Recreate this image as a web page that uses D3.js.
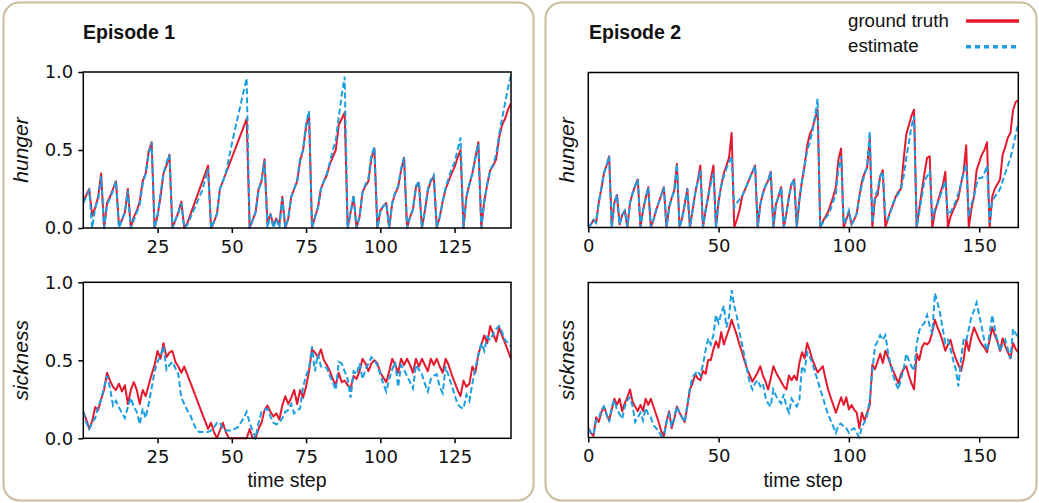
<!DOCTYPE html>
<html><head><meta charset="utf-8">
<script src="https://cdn.jsdelivr.net/npm/d3@7"></script>
<style>
body{margin:0;background:#fff;}
svg{display:block;}
</style></head>
<body>
<svg id="chart" width="1039" height="503"></svg>
<script>
// ---------------- DATA ----------------
const episodes = ["Episode 1", "Episode 2"];
const seriesNames = ["ground truth", "estimate"];
const yTicks = [0, 0.5, 1.0];
const ep1XTicks = [25, 50, 75, 100, 125];
const ep2XTicks = [0, 50, 100, 150];
const ep1Range = [0, 144];
const ep2Range = [0, 165];

// hunger: [time step, value] vertices
const ep1HungerTruth = [[0,.17],[2,.25],[3,.08],[4,.13],[5,.2],[6,.35],[7,0],[8,.16],[9,.2],[10,.25],[11,.3],[12,.02],[13,.05],[14,.1],[15,.25],[16,0],[17,.07],[18,.11],[19,.17],[20,.3],[21,.35],[22,.49],[23,.55],[24,0],[25,.08],[26,.2],[27,.35],[28,.4],[29,.47],[30,0],[31,.05],[32,.1],[33,.17],[34,0],[35,.03],[42,.4],[43,0],[44,.04],[45,.09],[46,.25],[55,.7],[56,0],[57,.05],[58,.1],[59,.25],[60,.3],[61,.44],[62,.03],[63,.09],[64,.02],[65,.06],[66,.02],[67,.2],[68,0],[69,.06],[70,.2],[71,.25],[72,.3],[73,.43],[74,.5],[75,.65],[76,.73],[77,0],[78,.07],[79,.13],[80,.25],[81,.3],[82,.34],[83,.41],[85,.5],[86,.66],[87,.7],[88,.74],[89,0],[90,.1],[91,.2],[92,0],[93,.07],[94,.23],[95,.27],[96,.3],[97,.45],[98,.51],[99,0],[100,.11],[101,.14],[102,.16],[103,0],[104,.16],[105,.22],[106,.26],[107,.37],[108,.45],[109,0],[110,.07],[111,.12],[112,.26],[113,.29],[114,0],[115,.11],[116,.24],[117,.3],[118,.33],[119,0],[120,.07],[121,.17],[122,.25],[123,.3],[124,.35],[125,.39],[126,.45],[127,.5],[128,0],[129,.2],[130,.28],[131,.35],[132,.45],[133,.55],[134,0],[135,.17],[136,.28],[137,.37],[138,.4],[139,.44],[140,.58],[141,.66],[142,.7],[143,.76],[144,.8]];
const ep1HungerEst = [[0,.16],[2,.24],[3,0],[4,.13],[5,.18],[6,.33],[7,0],[8,.15],[9,.19],[10,.24],[11,.3],[12,0],[13,.05],[14,.1],[15,.24],[16,0],[17,.05],[18,.1],[19,.15],[20,.28],[21,.35],[22,.47],[23,.55],[24,0],[25,.08],[26,.22],[27,.35],[28,.42],[29,.47],[30,0],[31,.05],[32,.1],[33,.16],[34,0],[35,.02],[38,.15],[40,.24],[42,.38],[43,0],[44,.04],[45,.09],[46,.25],[48,.35],[50,.54],[52,.71],[55,.96],[56,0],[57,.05],[58,.1],[59,.24],[60,.3],[61,.43],[62,0],[63,.09],[64,0],[65,.06],[66,0],[67,.19],[68,0],[69,.06],[70,.2],[71,.25],[72,.3],[73,.45],[74,.5],[75,.67],[76,.75],[77,0],[78,.07],[79,.13],[80,.25],[81,.3],[82,.35],[83,.42],[84,.5],[85,.56],[86,.71],[87,.85],[88,.97],[89,0],[90,.1],[91,.21],[92,0],[93,.07],[94,.23],[95,.28],[96,.32],[97,.47],[98,.52],[99,0],[100,.11],[101,.14],[102,.16],[103,0],[104,.16],[105,.23],[106,.27],[107,.38],[108,.45],[109,0],[110,.07],[111,.12],[112,.27],[113,.3],[114,0],[115,.11],[116,.25],[117,.31],[118,.34],[119,0],[120,.07],[121,.17],[122,.26],[123,.32],[124,.38],[125,.42],[126,.5],[127,.58],[128,0],[129,.2],[130,.28],[131,.35],[132,.45],[133,.54],[134,0],[135,.17],[136,.28],[137,.37],[138,.41],[139,.47],[140,.6],[141,.7],[142,.8],[143,.9],[144,.98]];

const ep2HungerTruth = [[0,0],[1,.02],[2,.05],[3,.03],[4,.16],[5,.25],[6,.35],[7,.4],[8,.46],[9,0],[10,.16],[11,.21],[12,.02],[13,.08],[14,.11],[15,0],[16,.16],[17,.22],[18,.27],[19,.31],[20,0],[21,.11],[22,.19],[23,.26],[24,0],[25,.05],[26,.11],[27,.16],[28,.21],[29,.26],[30,0],[31,.13],[32,.19],[33,.24],[34,.41],[35,0],[36,.06],[37,.15],[38,.25],[39,0],[40,.11],[41,.22],[42,.3],[43,.4],[44,0],[45,.11],[46,.2],[47,.31],[48,.4],[49,0],[50,.17],[51,.27],[52,.35],[53,.4],[54,.45],[55,.61],[56,0],[57,.05],[58,.11],[59,.2],[60,.24],[61,.28],[62,.32],[63,.36],[64,.4],[65,0],[66,.15],[67,.22],[68,.27],[69,.3],[70,.36],[71,0],[72,.15],[73,.2],[74,.26],[75,0],[76,.09],[77,.2],[78,.28],[79,.31],[80,0],[81,.18],[82,.3],[83,.4],[84,.53],[85,.6],[86,.64],[87,.7],[88,.76],[89,0],[90,.04],[91,.07],[92,.1],[93,.15],[94,.2],[95,.26],[96,.44],[97,.51],[98,0],[99,.05],[100,.1],[101,.02],[102,.05],[103,.09],[104,.2],[105,.3],[106,.35],[107,.39],[108,.58],[109,0],[110,.19],[111,.21],[112,.33],[113,.37],[114,0],[115,.06],[116,.11],[117,.15],[118,.2],[119,.23],[120,.25],[121,.44],[122,.6],[123,.66],[124,.72],[125,.76],[126,0],[127,.12],[128,.24],[129,.35],[130,.45],[131,.46],[132,0],[133,.1],[134,.16],[135,.22],[136,.27],[137,.36],[138,0],[139,.07],[140,.11],[141,.15],[142,.19],[143,.28],[144,.36],[145,.53],[146,0],[147,.12],[148,.2],[149,.37],[150,.42],[151,.47],[152,.5],[153,.55],[154,0],[155,.2],[156,.25],[157,.28],[158,.31],[159,.47],[160,.52],[161,.58],[162,.61],[163,.76],[164,.81],[165,.82]];
const ep2HungerEst = [[0,0],[1,.02],[2,.05],[3,.03],[4,.16],[5,.25],[6,.35],[7,.4],[8,.46],[9,0],[10,.16],[11,.21],[12,.02],[13,.08],[14,.11],[15,0],[16,.16],[17,.22],[18,.27],[19,.31],[20,0],[21,.11],[22,.19],[23,.26],[24,0],[25,.05],[26,.11],[27,.16],[28,.21],[29,.26],[30,0],[31,.13],[32,.19],[33,.24],[34,.41],[35,0],[36,.06],[37,.15],[38,.25],[39,0],[40,.11],[41,.22],[42,.3],[43,.37],[44,0],[45,.11],[46,.2],[47,.28],[48,.35],[49,0],[50,.17],[51,.27],[52,.33],[53,.38],[54,.42],[55,.46],[56,.13],[57,.16],[58,.18],[59,.2],[60,.24],[61,.28],[62,.32],[63,.36],[64,.4],[65,0],[66,.15],[67,.22],[68,.27],[69,.3],[70,.36],[71,0],[72,.15],[73,.2],[74,.26],[75,0],[76,.09],[77,.2],[78,.28],[79,.31],[80,0],[81,.17],[82,.3],[83,.4],[84,.5],[85,.55],[86,.62],[87,.72],[88,.83],[89,0],[90,.03],[91,.06],[92,.08],[93,.12],[94,.17],[95,.22],[96,.38],[97,.46],[98,.02],[99,.06],[100,.11],[101,.02],[102,.05],[103,.09],[104,.2],[105,.28],[106,.34],[107,.39],[108,.62],[109,.03],[110,.2],[111,.24],[112,.33],[113,.36],[114,.07],[115,.05],[116,.1],[117,.16],[118,.19],[119,.22],[120,.25],[121,.33],[122,.45],[123,.55],[124,.65],[125,.72],[126,0],[127,.1],[128,.2],[129,.3],[130,.33],[131,.36],[132,.05],[133,.12],[134,.15],[135,.2],[136,.25],[137,.3],[138,.08],[139,.1],[140,.13],[141,.17],[142,.22],[143,.28],[144,.35],[145,.41],[146,.07],[147,.15],[148,.2],[149,.28],[150,.32],[151,.32],[152,.35],[153,.4],[154,.03],[155,.17],[156,.2],[157,.22],[158,.25],[159,.3],[160,.35],[161,.4],[162,.45],[163,.52],[164,.6],[165,.67]];

// sickness: one value per time step (index = time step)
const ep1SickTruth = [.17,.12,.06,.11,.2,.18,.25,.31,.42,.37,.33,.31,.35,.3,.34,.22,.31,.36,.31,.22,.31,.27,.34,.41,.47,.56,.51,.61,.52,.55,.56,.49,.46,.42,.46,.41,.36,.31,.26,.21,.16,.11,.06,.1,.04,0,.05,.1,.04,0,0,0,0,0,0,0,.06,0,0,.06,.1,.18,.21,.17,.14,.16,.12,.21,.27,.22,.26,.31,.22,.31,.26,.33,.43,.57,.55,.52,.57,.5,.47,.43,.38,.34,.42,.36,.37,.34,.32,.4,.38,.43,.51,.48,.43,.48,.5,.48,.42,.39,.36,.43,.51,.47,.42,.51,.47,.51,.47,.42,.51,.46,.51,.47,.43,.51,.47,.51,.46,.42,.51,.47,.41,.36,.31,.27,.37,.33,.35,.46,.42,.54,.6,.66,.61,.72,.67,.62,.71,.66,.61,.56,.51];
const ep1SickEst = [.17,.1,.06,.1,.13,.2,.25,.33,.4,.32,.21,.24,.2,.16,.13,.2,.26,.2,.17,.09,.19,.13,.22,.32,.43,.49,.53,.59,.44,.47,.49,.45,.41,.26,.22,.18,.15,.1,.06,.04,.04,.04,.04,.05,.07,.1,.1,.06,.05,.05,.05,.06,.07,.1,.13,.17,.1,.05,0,.1,.17,.18,.19,.14,.1,.09,.1,.13,.17,.18,.22,.16,.18,.19,.33,.4,.45,.59,.43,.54,.46,.46,.45,.4,.36,.31,.49,.48,.43,.38,.26,.43,.41,.48,.38,.44,.48,.52,.5,.47,.41,.35,.3,.38,.44,.49,.33,.47,.44,.4,.36,.32,.47,.44,.41,.35,.3,.38,.4,.41,.33,.29,.46,.4,.34,.28,.22,.2,.19,.28,.24,.35,.45,.53,.61,.56,.65,.63,.67,.7,.72,.68,.63,.61,.59];
const ep2SickTruth = [.06,.03,.01,.13,.1,.16,.2,.15,.11,.18,.25,.21,.25,.17,.22,.26,.31,.23,.2,.17,.21,.17,.25,.21,.25,.2,.15,.1,.04,.01,.1,.17,.06,.12,.2,.16,.13,.1,.2,.31,.35,.41,.38,.37,.43,.41,.5,.5,.57,.62,.58,.68,.6,.65,.7,.76,.71,.66,.6,.55,.49,.44,.4,.36,.39,.42,.46,.4,.36,.31,.38,.46,.42,.39,.36,.33,.31,.4,.37,.4,.37,.48,.55,.51,.61,.56,.5,.46,.42,.44,.46,.38,.31,.26,.21,.16,.21,.26,.21,.26,.18,.21,.18,.16,.06,.16,.11,.16,.21,.47,.44,.49,.54,.48,.56,.52,.47,.43,.39,.35,.41,.44,.46,.4,.35,.31,.54,.5,.58,.61,.6,.62,.68,.76,.71,.67,.62,.56,.6,.63,.56,.51,.47,.43,.5,.63,.56,.65,.71,.67,.63,.6,.58,.55,.63,.71,.66,.62,.56,.64,.59,.55,.51,.61,.57,.55];
const ep2SickEst = [.06,.03,.02,.11,.12,.18,.2,.15,.1,.2,.24,.18,.15,.12,.2,.24,.26,.2,.1,.13,.16,.11,.19,.15,.13,.08,.06,.04,.01,.01,.1,.15,.07,.13,.2,.16,.13,.1,.21,.32,.39,.41,.43,.4,.47,.56,.64,.6,.66,.79,.74,.8,.85,.71,.78,.95,.85,.78,.68,.6,.52,.43,.35,.31,.35,.37,.33,.35,.26,.22,.2,.31,.27,.24,.22,.28,.2,.16,.25,.22,.2,.24,.46,.43,.55,.52,.48,.42,.37,.31,.26,.2,.15,.11,.07,.03,.08,.09,.07,.06,.03,.05,.06,.03,0,.07,.1,.14,.25,.43,.59,.62,.66,.63,.66,.55,.47,.4,.35,.31,.38,.44,.54,.5,.46,.43,.6,.69,.72,.74,.79,.72,.67,.93,.87,.8,.7,.61,.63,.57,.5,.44,.33,.5,.63,.62,.7,.78,.82,.87,.79,.71,.62,.56,.67,.79,.7,.62,.56,.6,.63,.57,.51,.7,.67,.65];

// ---------------- STYLE / LAYOUT ----------------
const RED = "#e5192d", BLUE = "#1b9fe2", FRAME = "#cbbc9c";
const TICKFONT = "'DejaVu Sans', sans-serif";
const TEXTFONT = "'Liberation Sans', Arial, sans-serif";

const svg = d3.select("#chart");

// panel frames
const frames = [{x:3.5, w:530}, {x:545.5, w:491}];
frames.forEach(f => {
  svg.append("rect").attr("x", f.x).attr("y", 2.5).attr("width", f.w).attr("height", 498)
    .attr("rx", 16).attr("ry", 16).attr("fill", "#fff").attr("stroke", FRAME).attr("stroke-width", 2);
});

const toPairs = arr => arr.map((v, i) => [i, v]);

const panels = [
  {ep:0, left:83.3, right:511, top:72, bottom:228, domain:ep1Range, xt:ep1XTicks, yt:true, label:"hunger", truth:ep1HungerTruth, est:ep1HungerEst, lx:28, showX:true},
  {ep:0, left:83.3, right:511, top:282.3, bottom:438.3, domain:ep1Range, xt:ep1XTicks, yt:true, label:"sickness", truth:toPairs(ep1SickTruth), est:toPairs(ep1SickEst), lx:28, showX:true},
  {ep:1, left:588.3, right:1018.3, top:72.5, bottom:227.5, domain:ep2Range, xt:ep2XTicks, yt:false, label:"hunger", truth:ep2HungerTruth, est:ep2HungerEst, lx:574, showX:true},
  {ep:1, left:588.3, right:1018.3, top:282.5, bottom:437.5, domain:ep2Range, xt:ep2XTicks, yt:false, label:"sickness", truth:toPairs(ep2SickTruth), est:toPairs(ep2SickEst), lx:574, showX:true}
];

panels.forEach((p, i) => {
  const x = d3.scaleLinear().domain(p.domain).range([p.left, p.right]);
  const y = d3.scaleLinear().domain([0, 1]).range([p.bottom, p.top]);
  const g = svg.append("g");

  const clipId = "clip" + i;
  g.append("clipPath").attr("id", clipId).append("rect")
    .attr("x", p.left).attr("y", p.top - 2).attr("width", p.right - p.left).attr("height", p.bottom - p.top + 4);

  const line = d3.line().x(d => x(d[0])).y(d => y(d[1]));
  const lines = g.append("g").attr("clip-path", `url(#${clipId})`);
  lines.append("path").datum(p.truth).attr("d", line)
    .attr("fill", "none").attr("stroke", RED).attr("stroke-width", 2).attr("stroke-linejoin", "round");
  lines.append("path").datum(p.est).attr("d", line)
    .attr("fill", "none").attr("stroke", BLUE).attr("stroke-width", 2).attr("stroke-dasharray", "6,3");

  // x axis
  const xa = g.append("g").attr("transform", `translate(0,${p.bottom})`)
    .call(d3.axisBottom(x).tickValues(p.xt).tickSize(5).tickSizeOuter(0).tickPadding(7).tickFormat(d3.format("d")));
  xa.select(".domain").remove();
  xa.selectAll("line").attr("stroke", "#000").attr("stroke-width", 1.5);
  xa.selectAll("text").attr("font-family", TICKFONT).attr("font-size", 18).attr("fill", "#111");

  if (p.yt) {
    const ya = g.append("g").attr("transform", `translate(${p.left},0)`)
      .call(d3.axisLeft(y).tickValues(yTicks).tickSize(5).tickSizeOuter(0).tickPadding(5).tickFormat(d3.format(".1f")));
    ya.select(".domain").remove();
    ya.selectAll("line").attr("stroke", "#000").attr("stroke-width", 1.5);
    ya.selectAll("text").attr("font-family", TICKFONT).attr("font-size", 18).attr("fill", "#111");
  }

  // spines
  g.append("rect").attr("x", p.left).attr("y", p.top).attr("width", p.right - p.left).attr("height", p.bottom - p.top)
    .attr("fill", "none").attr("stroke", "#000").attr("stroke-width", 1.5);

  // y label
  g.append("text").attr("transform", `translate(${p.lx},${(p.top + p.bottom) / 2}) rotate(-90)`)
    .attr("text-anchor", "middle").attr("font-family", TEXTFONT).attr("font-style", "italic")
    .attr("font-size", 21).attr("fill", "#111").text(p.label);
});

// x labels
[{x:287, ep:0}, {x:803, ep:1}].forEach(d => {
  svg.append("text").attr("x", d.x).attr("y", 487).attr("text-anchor", "middle")
    .attr("font-family", TEXTFONT).attr("font-size", 19.5).attr("fill", "#111").text("time step");
});

// titles
[{x:83, t:episodes[0]}, {x:589, t:episodes[1]}].forEach(d => {
  svg.append("text").attr("x", d.x).attr("y", 39).attr("font-family", TEXTFONT)
    .attr("font-weight", "bold").attr("font-size", 19.5).attr("fill", "#111").text(d.t);
});

// legend
const legend = svg.append("g");
[{name:seriesNames[0], color:RED, dash:null, ty:26.7, ly:21},
 {name:seriesNames[1], color:BLUE, dash:"5,4", ty:51.7, ly:46.7}].forEach(d => {
  legend.append("text").attr("x", 848).attr("y", d.ty).attr("font-family", TEXTFONT)
    .attr("font-size", 18.7).attr("fill", "#111").text(d.name);
  const l = legend.append("line").attr("x1", 966).attr("x2", 1019).attr("y1", d.ly).attr("y2", d.ly)
    .attr("stroke", d.color).attr("stroke-width", 3.5);
  if (d.dash) l.attr("stroke-dasharray", d.dash);
});
</script>
</body></html>
